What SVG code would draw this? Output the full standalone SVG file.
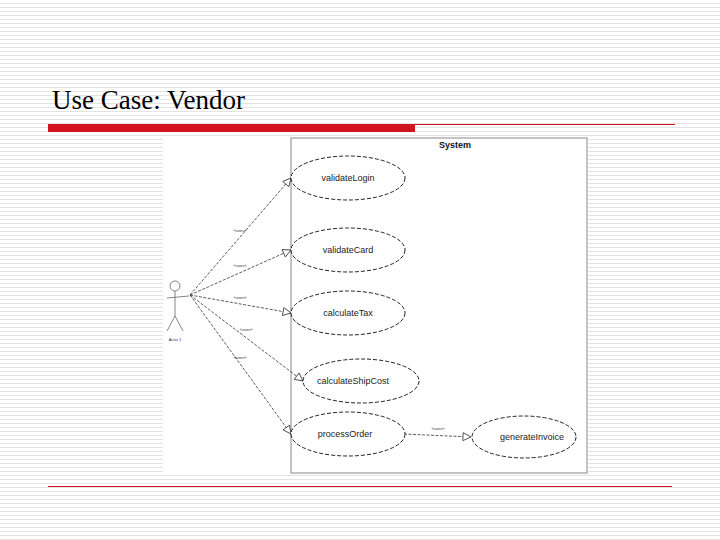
<svg xmlns="http://www.w3.org/2000/svg" width="720" height="540" viewBox="0 0 720 540">
<defs>
<pattern id="stripes" width="8" height="4" patternUnits="userSpaceOnUse"><rect width="8" height="4" fill="#fff"/><rect y="3" width="8" height="1" fill="#e4e4e4"/></pattern>
<marker id="tri" markerWidth="10" markerHeight="10" refX="9" refY="5" orient="auto" markerUnits="userSpaceOnUse"><path d="M1,1 L9,5 L1,9 Z" fill="#fff" stroke="#333" stroke-width="0.8"/></marker>
</defs>
<style>
.uc{fill:#fff;stroke:#222;stroke-width:1;stroke-dasharray:4 2}
.t{font-family:"Liberation Sans",Arial,sans-serif;font-size:9px;fill:#222;text-anchor:middle}
.s{font-family:"Liberation Sans",Arial,sans-serif;font-size:4px;fill:#333;text-anchor:middle}
.c{stroke:#333;stroke-width:0.8;stroke-dasharray:3 1.5;fill:none;marker-end:url(#tri)}
</style>
<rect width="720" height="540" fill="url(#stripes)"/>
<text x="52" y="109" font-family="Liberation Serif,serif" font-size="27" fill="#000">Use Case: Vendor</text>
<rect x="48" y="124" width="367" height="8" fill="#d2141c"/>
<line x1="415" y1="124.5" x2="675" y2="124.5" stroke="#d2141c" stroke-width="1"/>
<line x1="48" y1="486.5" x2="672" y2="486.5" stroke="#d2141c" stroke-width="1"/>
<rect x="163" y="137" width="425" height="337" fill="#fff"/>
<g id="system"><rect x="291" y="138" width="296" height="335" fill="none" stroke="#888" stroke-width="1"/>
<text x="439" y="148" font-family="Liberation Sans,Arial,sans-serif" font-size="9" font-weight="bold" fill="#111">System</text></g>
<g id="actor" stroke="#666" fill="none" stroke-width="0.8"><circle cx="175" cy="286" r="5"/><line x1="175" y1="291" x2="175" y2="316"/><line x1="167" y1="298" x2="189" y2="296"/><line x1="175" y1="316" x2="167" y2="331"/><line x1="175" y1="316" x2="183" y2="331"/><text x="175" y="341" class="s" stroke="none" fill="#333">Actor 1</text></g>
<g id="connectors">
<path class="c" d="M190,295 L291,178"/>
<path class="c" d="M190,295 L291,250"/>
<path class="c" d="M190,295 L291,313"/>
<path class="c" d="M190,295 L303,381"/>
<path class="c" d="M190,295 L291,434"/>
<path class="c" d="M404,434 L471,437"/>
<text class="s" x="240" y="232">«uses»</text>
<text class="s" x="240" y="267">«uses»</text>
<text class="s" x="240" y="299">«uses»</text>
<text class="s" x="246" y="331">«uses»</text>
<text class="s" x="240" y="359">«uses»</text>
<text class="s" x="438" y="430">«uses»</text>
</g>
<g id="validateLogin"><ellipse class="uc" cx="348" cy="178" rx="57" ry="22"/><text class="t" x="348" y="181">validateLogin</text></g>
<g id="validateCard"><ellipse class="uc" cx="348" cy="250" rx="57" ry="22"/><text class="t" x="348" y="253">validateCard</text></g>
<g id="calculateTax"><ellipse class="uc" cx="348" cy="313" rx="57" ry="22"/><text class="t" x="348" y="316">calculateTax</text></g>
<g id="calculateShipCost"><ellipse class="uc" cx="361" cy="381" rx="58" ry="22"/><text class="t" x="353" y="384">calculateShipCost</text></g>
<g id="processOrder"><ellipse class="uc" cx="348" cy="434" rx="57" ry="22"/><text class="t" x="345" y="437">processOrder</text></g>
<g id="generateInvoice"><ellipse class="uc" cx="524" cy="437" rx="52" ry="21"/><text class="t" x="532" y="440">generateInvoice</text></g>
</svg>
